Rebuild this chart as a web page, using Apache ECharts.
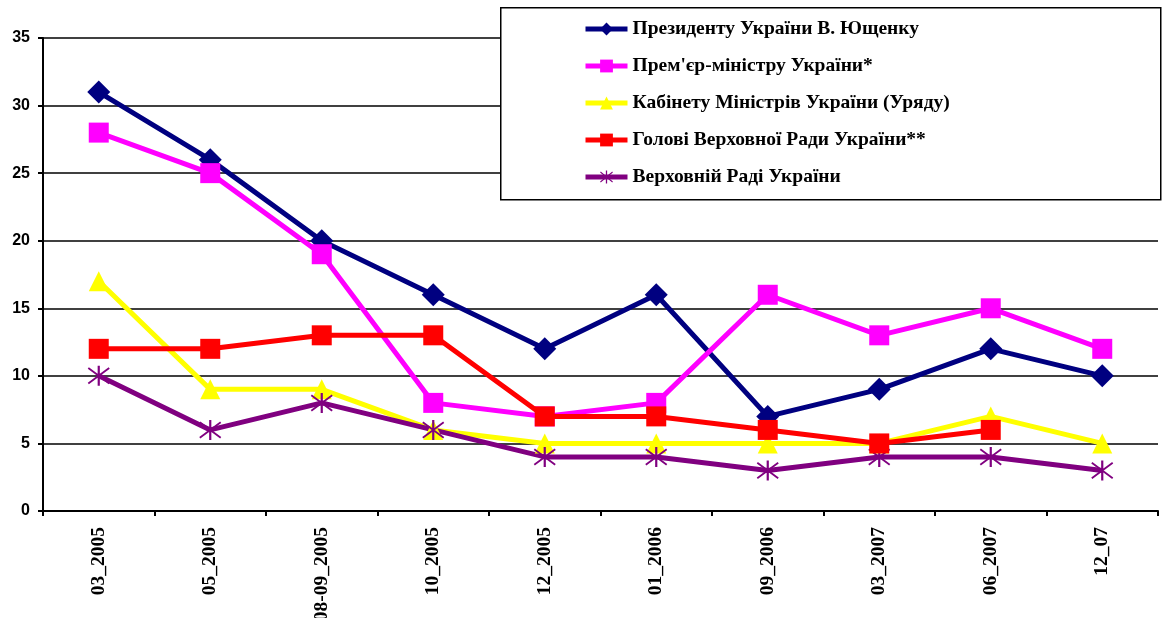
<!DOCTYPE html>
<html><head><meta charset="utf-8">
<script src="https://cdn.jsdelivr.net/npm/echarts@6/dist/echarts.min.js"></script>
<style>html,body{margin:0;padding:0;background:#fff}#c{width:1163px;height:618px}</style>
</head><body><div id="c"></div>
<script>
const categories = ['03_2005','05_2005','08-09_2005','10_2005','12_2005','01_2006','09_2006','03_2007','06_2007','12_07'];
const seriesNames = ['Президенту України В. Ющенку','Прем\'єр-міністру України*','Кабінету Міністрів України (Уряду)','Голові Верховної Ради України**','Верховній Раді України'];
const president = [31, 26, 20, 16, 12, 16, 7, 9, 12, 10];
const primeMinister = [28, 25, 19, 8, 7, 8, 16, 13, 15, 12];
const cabinet = [17, 9, 9, 6, 5, 5, 5, 5, 7, 5];
const speaker = [12, 12, 13, 13, 7, 7, 6, 5, 6, null];
const rada = [10, 6, 8, 6, 4, 4, 3, 4, 4, 3];
const yTicks = {min: 0, max: 35, interval: 5};

const colors = ['#000080', '#FF00FF', '#FFFF00', '#FF0000', '#800080'];
const star = 'path://M10,0L12,0L12,20L10,20Z M1,3L2,1.5L21,17L20,18.5Z M20,1.5L21,3L2,18.5L1,17Z';
const symbols = ['diamond', 'rect', 'triangle', 'rect', star];
const symbolSizes = [[23, 23], 20, 20, 20, [22, 20]];
const data = [president, primeMinister, cabinet, speaker, rada];

const chart = echarts.init(document.getElementById('c'));
chart.setOption({
  animation: false,
  backgroundColor: '#fff',
  grid: {left: 43, right: 5, top: 38, bottom: 107, containLabel: false, outerBoundsMode: 'none'},
  graphic: [{
    type: 'rect', z: 3, left: 500, top: 7,
    shape: {width: 660, height: 192},
    style: {fill: '#fff', stroke: '#000', lineWidth: 1.5}
  }],
  legend: {
    orient: 'vertical', left: 578, top: 14, z: 10,
    itemWidth: 42, itemHeight: 16, itemGap: 17,
    lineStyle: {width: 5},
    data: seriesNames,
    textStyle: {fontFamily: '"Liberation Serif", "Times New Roman", serif', fontWeight: 'bold', fontSize: 19.5, color: '#000'}
  },
  xAxis: {
    type: 'category', data: categories, boundaryGap: true,
    axisLine: {lineStyle: {color: '#000', width: 2}},
    axisTick: {show: true, length: 5, lineStyle: {color: '#000', width: 2}},
    axisLabel: {rotate: 90, margin: 16, interval: 0, color: '#000', fontFamily: '"Liberation Serif", "Times New Roman", serif', fontWeight: 'bold', fontSize: 19.5}
  },
  yAxis: {
    type: 'value', min: yTicks.min, max: yTicks.max, interval: yTicks.interval,
    axisLine: {show: true, lineStyle: {color: '#000', width: 2}},
    axisTick: {show: true, length: 5, lineStyle: {color: '#000', width: 2}},
    axisLabel: {margin: 13, color: '#000', fontFamily: '"Liberation Sans", Arial, sans-serif', fontWeight: 'bold', fontSize: 16},
    splitLine: {show: true, lineStyle: {color: '#000', width: 1.5}}
  },
  series: seriesNames.map((n, i) => ({
    name: n, type: 'line', data: data[i],
    symbol: symbols[i], symbolSize: symbolSizes[i],
    lineStyle: {color: colors[i], width: 5},
    itemStyle: {color: colors[i]},
    z: 2 + (i === 3 ? 0.5 : 0)
  }))
});
</script></body></html>
